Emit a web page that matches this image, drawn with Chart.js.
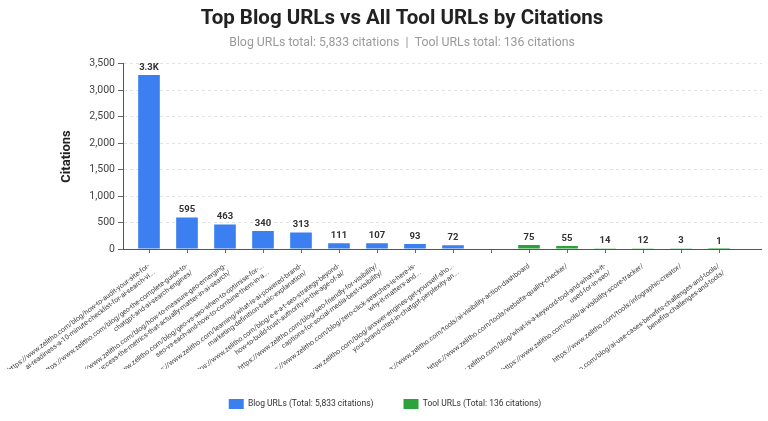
<!DOCTYPE html>
<html>
<head>
<meta charset="utf-8">
<script src="https://cdn.jsdelivr.net/npm/chart.js@4.4.1/dist/chart.umd.min.js"></script>
<style>
  html, body { margin: 0; padding: 0; background: #fff; }
  #wrap { width: 768px; height: 421px; }
</style>
</head>
<body>
<div id="wrap"><canvas id="citationChart"></canvas></div>
<script>
// blog URLs (top 9) and tool URLs, each label split in two lines like the source
const blogUrls = [
    ["https://www.zelitho.com/blog/how-to-audit-your-site-for-", "ai-readiness-a-10-minute-checklist-for-ai-search-vi..."],
    ["https://www.zelitho.com/blog/geo-the-complete-guide-to-", "chatgpt-and-ai-search-engines/"],
    ["https://www.zelitho.com/blog/how-to-measure-geo-emerging-", "success-the-metrics-that-actually-matter-in-ai-search/"],
    ["https://www.zelitho.com/blog/geo-vs-seo-when-to-optimise-for-...", "seo-vs-each-and-how-to-combine-them-in-a..."],
    ["https://www.zelitho.com/learning/what-is-ai-powered-brand-", "marketing-definition-basic-explanation/"],
    ["https://www.zelitho.com/blog/e-e-a-t-seo-strategy-beyond-", "how-to-build-trust-authority-in-the-age-of-ai/"],
    ["https://www.zelitho.com/blog/seo-friendly-for-visibility/", "captions-for-social-media-best-visibility/"],
    ["https://www.zelitho.com/blog/zero-click-searches-is-here-is-", "why-it-matters-and..."],
    ["https://www.zelitho.com/blog/answer-engines-get-yourself-sho...", "your-brand-cited-in-chatgpt-perplexity-an..."]
];
const blogValues = [3290, 595, 463, 340, 313, 111, 107, 93, 72];

const toolUrls = [
    "https://www.zelitho.com/tools/ai-visibility-action-dashboard",
    "https://www.zelitho.com/tools/website-quality-checker/",
    ["https://www.zelitho.com/blog/what-is-a-keyword-tool-and-what-is-it-", "used-for-in-seo/"],
    "https://www.zelitho.com/tools/ai-visibility-score-tracker/",
    "https://www.zelitho.com/tools/infographic-creator/",
    ["https://www.zelitho.com/blog/ai-use-cases-benefits-challenges-and-tools/", "benefits-challenges-and-tools/"]
];
const toolValues = [75, 55, 14, 12, 3, 1];

const yTicks = [0, 500, 1000, 1500, 2000, 2500, 3000, 3500];

// one empty category between the two groups
const labels = [...blogUrls, "", ...toolUrls];
const blogData = [...blogValues, ...Array(1 + toolUrls.length).fill(null)];
const toolData = [...Array(blogUrls.length + 1).fill(null), ...toolValues];

const fmt = v => v >= 1000 ? (v / 1000).toFixed(1) + 'K' : String(v);

// value labels on top of bars
const barValues = {
    id: 'barValues',
    afterDatasetsDraw(chart) {
        const ctx = chart.ctx;
        ctx.save();
        ctx.font = 'bold 9.5px Roboto, sans-serif';
        ctx.fillStyle = '#333';
        ctx.textAlign = 'center';
        ctx.textBaseline = 'bottom';
        chart.data.datasets.forEach((ds, i) => {
            chart.getDatasetMeta(i).data.forEach((bar, j) => {
                const v = ds.data[j];
                if (v === null) return;
                ctx.fillText(fmt(v), bar.x, bar.y - 3);
            });
        });
        ctx.restore();
    }
};

// bars sit a bit inside the plot frame; legend is centred on the whole page
const layoutTweaks = {
    id: 'layoutTweaks',
    afterLayout(chart) {
        const x = chart.scales.x;
        x.left = chart.chartArea.left + 7;
        x.right = chart.chartArea.right - 24;
        x.width = x.right - x.left;
        x.configure();
        const lg = chart.legend;
        lg.left = 8;
        lg.width = lg.right - lg.left;
    }
};

const ctx = document.getElementById('citationChart').getContext('2d');
new Chart(ctx, {
    type: 'bar',
    data: {
        labels: labels,
        datasets: [{
            label: 'Blog URLs (Total: 5,833 citations)',
            data: blogData,
            backgroundColor: '#3b7ff0',
            grouped: false,
            barPercentage: 0.57,
            categoryPercentage: 1
        }, {
            label: 'Tool URLs (Total: 136 citations)',
            data: toolData,
            backgroundColor: '#2ca33a',
            grouped: false,
            barPercentage: 0.57,
            categoryPercentage: 1
        }]
    },
    options: {
        responsive: true,
        maintainAspectRatio: false,
        animation: false,
        layout: { padding: { left: 42, right: 6, top: 0, bottom: 2 } },
        plugins: {
            title: {
                display: true,
                text: 'Top Blog URLs vs All Tool URLs by Citations',
                color: '#222',
                font: { family: 'Roboto', size: 20.5, weight: 'bold' },
                padding: { top: 7, bottom: 4 }
            },
            subtitle: {
                display: true,
                text: 'Blog URLs total: 5,833 citations  |  Tool URLs total: 136 citations',
                color: '#9a9a9a',
                font: { family: 'Roboto', size: 12.3 },
                padding: { bottom: 13.5 }
            },
            legend: {
                position: 'bottom',
                labels: {
                    boxWidth: 15,
                    boxHeight: 10,
                    padding: 30,
                    color: '#333',
                    font: { family: 'Roboto', size: 8.5 }
                }
            },
            tooltip: { enabled: false }
        },
        scales: {
            x: {
                afterFit: s => {
                    s.height = 120;
                    // long rotated labels may hang past the left edge
                    s.paddingLeft = 0;
                    s.paddingRight = 0;
                },
                grid: { drawOnChartArea: false, offset: false, tickLength: 4, tickColor: '#666' },
                border: { display: false },
                ticks: {
                    autoSkip: false,
                    minRotation: 37,
                    maxRotation: 37,
                    color: '#444',
                    padding: 9,
                    font: { family: 'Roboto', size: 7 }
                }
            },
            y: {
                min: 0,
                max: 3500,
                afterBuildTicks: s => { s.ticks = yTicks.map(v => ({ value: v })); },
                afterFit: s => { s.width = 81; },
                title: {
                    display: true,
                    text: 'Citations',
                    color: '#222',
                    padding: { top: 17, bottom: 0 },
                    font: { family: 'Roboto', size: 13, weight: 'bold' }
                },
                grid: {
                    // baseline at 0 doubles as the x axis line across the whole frame
                    color: c => c.tick && c.tick.value === 0 ? '#555' : '#e3e3e3',
                    tickLength: 5,
                    tickColor: '#666',
                    tickBorderDash: []
                },
                border: {
                    color: '#555',
                    dash: c => c.tick && c.tick.value === 0 ? [] : [3, 3]
                },
                ticks: {
                    color: '#444',
                    padding: 3,
                    font: { family: 'Roboto', size: 10.5 },
                    callback: v => v.toLocaleString('en-US')
                }
            }
        }
    },
    plugins: [barValues, layoutTweaks]
});
</script>
</body>
</html>
